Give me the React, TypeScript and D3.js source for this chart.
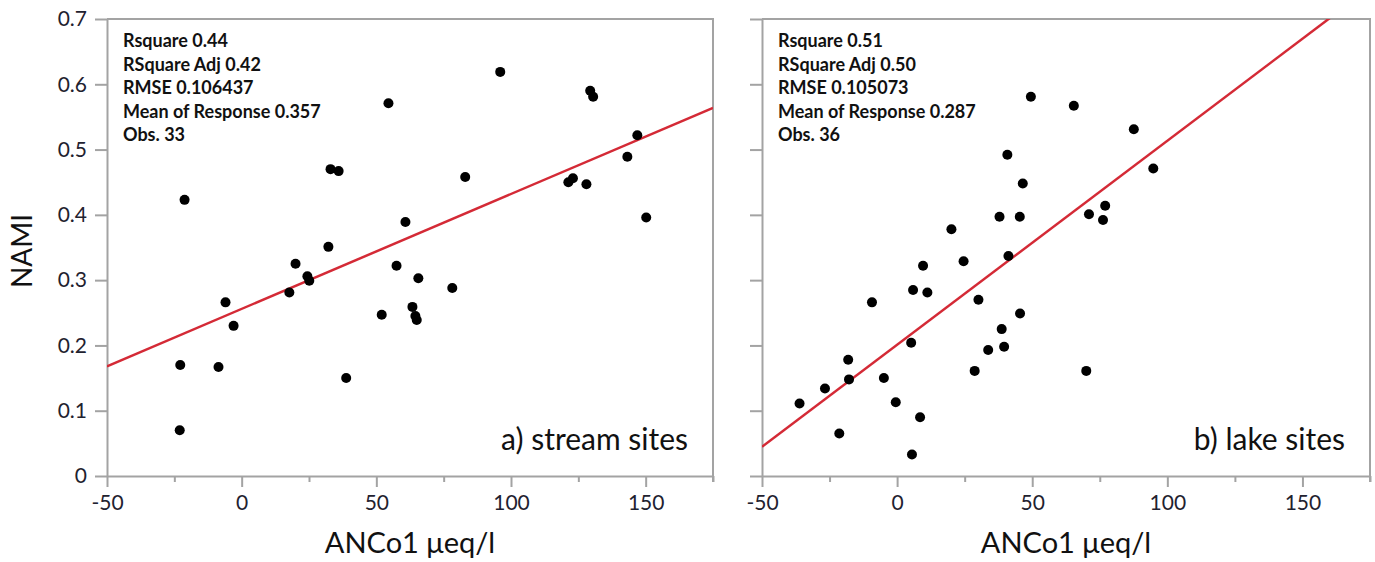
import React, { useEffect, useRef } from 'react';
import * as d3 from 'd3';

// axis ticks
const xTicks = [-50, 0, 50, 100, 150];
const xMinorTicks = [-25, 25, 75, 125, 175];
const yTicks = [0, 0.1, 0.2, 0.3, 0.4, 0.5, 0.6, 0.7];

// a) stream sites
const streamANC = [
  -22.8, -21.2, -23, -8.6, -6, -3, 17.7, 20, 24.4, 25.1, 32.2, 33, 36, 38.8, 54.5, 52, 57.5,
  60.8, 63.4, 64.5, 65, 65.6, 78.2, 83, 96, 121.3, 123, 128, 129.4, 130.5, 143.2, 146.9, 150.2,
];
const streamNAMI = [
  0.17, 0.423, 0.07, 0.167, 0.266, 0.23, 0.281, 0.325, 0.306, 0.299, 0.351, 0.47, 0.467, 0.15,
  0.571, 0.247, 0.322, 0.389, 0.259, 0.245, 0.239, 0.303, 0.288, 0.458, 0.619, 0.45, 0.456,
  0.447, 0.59, 0.581, 0.489, 0.522, 0.396,
];
const streamFit = [0.256, 0.00176]; // intercept, slope
const streamStats = [
  'Rsquare 0.44',
  'RSquare Adj 0.42',
  'RMSE 0.106437',
  'Mean of Response 0.357',
  'Obs. 33',
];

// b) lake sites
const lakeANC = [
  -36.1, -26.7, -21.4, -18.1, -17.8, -9.3, -4.9, -0.5, 5.2, 5.9, 5.5, 8.5, 11.2, 28.7, 30.1,
  33.7, 38.7, 39.6, 45.5, 70, 9.6, 20.1, 24.6, 37.9, 40.8, 41.2, 45.4, 46.5, 49.5, 65.4, 71,
  76.2, 77, 87.6, 94.8,
];
const lakeNAMI = [
  0.111, 0.134, 0.065, 0.178, 0.148, 0.266, 0.15, 0.113, 0.204, 0.285, 0.033, 0.09, 0.281,
  0.161, 0.27, 0.193, 0.225, 0.198, 0.249, 0.161, 0.322, 0.378, 0.329, 0.397, 0.492, 0.337,
  0.397, 0.448, 0.581, 0.567, 0.401, 0.392, 0.414, 0.531, 0.471,
];
const lakeFit = [0.201, 0.003125];
const lakeStats = [
  'Rsquare 0.51',
  'RSquare Adj 0.50',
  'RMSE 0.105073',
  'Mean of Response 0.287',
  'Obs. 36',
];

const FONT = 'Lato, "Open Sans", sans-serif';
const AXIS = '#a3a3a3';

const App = () => {
  const svgRef = useRef(null);

  useEffect(() => {
    const svg = d3.select(svgRef.current);
    svg.selectAll('*').remove();

    const top = 19;
    const bottom = 476;
    const y = d3.scaleLinear().domain([0, 0.7]).range([bottom, top]);

    const panels = [
      { id: 'a', left: 107, right: 713, xs: streamANC, ys: streamNAMI, fit: streamFit, stats: streamStats, label: 'a) stream sites', yLabels: true },
      { id: 'b', left: 762, right: 1370, xs: lakeANC, ys: lakeNAMI, fit: lakeFit, stats: lakeStats, label: 'b) lake sites', yLabels: false },
    ];

    panels.forEach((p) => {
      const x = d3.scaleLinear().domain([-50, 175]).range([p.left, p.right]);
      const g = svg.append('g');

      g.append('clipPath')
        .attr('id', `clip-${p.id}`)
        .append('rect')
        .attr('x', p.left)
        .attr('y', top)
        .attr('width', p.right - p.left)
        .attr('height', bottom - top);

      // frame: top and right
      g.append('path')
        .attr('d', `M${p.left},${top}H${p.right}V${bottom + 6}`)
        .attr('fill', 'none')
        .attr('stroke', AXIS)
        .attr('stroke-width', 2);

      // y axis
      const yAxis = g.append('g')
        .attr('transform', `translate(${p.left},0)`)
        .call(
          d3.axisLeft(y)
            .tickValues(yTicks)
            .tickSizeInner(12)
            .tickSizeOuter(0)
            .tickPadding(8)
            .tickFormat((d) => (p.yLabels ? (d === 0 ? '0' : d3.format('.1f')(d)) : ''))
        );

      // x axis, major + minor (plain hyphen for negatives)
      const xAxis = g.append('g')
        .attr('transform', `translate(0,${bottom})`)
        .call(
          d3.axisBottom(x)
            .tickValues(xTicks)
            .tickSizeInner(11)
            .tickSizeOuter(0)
            .tickPadding(8)
            .tickFormat((d) => String(d))
        );
      g.append('g')
        .attr('transform', `translate(0,${bottom})`)
        .call(d3.axisBottom(x).tickValues(xMinorTicks).tickSize(6).tickFormat(() => ''))
        .call((a) => a.select('.domain').remove());

      [yAxis, xAxis].forEach((a) => {
        a.select('.domain').attr('stroke', AXIS).attr('stroke-width', 2);
        a.selectAll('.tick text')
          .attr('font-family', FONT)
          .attr('font-size', 21)
          .attr('fill', '#1f2230');
      });
      g.selectAll('.tick line').attr('stroke', AXIS).attr('stroke-width', 2);

      // fitted line
      const [a0, b0] = p.fit;
      const line = d3.line()
        .x((d) => x(d))
        .y((d) => y(a0 + b0 * d));
      g.append('path')
        .datum([-50, 175])
        .attr('d', line)
        .attr('clip-path', `url(#clip-${p.id})`)
        .attr('fill', 'none')
        .attr('stroke', '#d42a36')
        .attr('stroke-width', 2.5);

      // points
      g.selectAll('circle.pt')
        .data(p.xs.map((v, i) => [v, p.ys[i]]))
        .enter()
        .append('circle')
        .attr('class', 'pt')
        .attr('cx', (d) => x(d[0]))
        .attr('cy', (d) => y(d[1]))
        .attr('r', 5)
        .attr('fill', '#000');

      // summary
      g.append('text')
        .attr('font-family', FONT)
        .attr('font-size', 18)
        .attr('font-weight', 'bold')
        .attr('fill', '#111')
        .selectAll('tspan')
        .data(p.stats)
        .enter()
        .append('tspan')
        .attr('x', p.left + 16)
        .attr('y', (d, i) => 47 + i * 23.5)
        .text((d) => d);

      g.append('text')
        .attr('x', p.right - 25)
        .attr('y', 450)
        .attr('text-anchor', 'end')
        .attr('font-family', FONT)
        .attr('font-size', 30)
        .attr('fill', '#111')
        .text(p.label);

      g.append('text')
        .attr('x', (p.left + p.right) / 2)
        .attr('y', 553)
        .attr('text-anchor', 'middle')
        .attr('font-family', FONT)
        .attr('font-size', 29)
        .attr('fill', '#111')
        .text('ANCo1 μeq/l');
    });

    svg.append('text')
      .attr('transform', `translate(32,251) rotate(-90)`)
      .attr('text-anchor', 'middle')
      .attr('font-family', FONT)
      .attr('font-size', 28)
      .attr('fill', '#111')
      .text('NAMI');
  }, []);

  return (
    <svg
      ref={svgRef}
      width={1375}
      height={562}
      style={{ position: 'absolute', left: 0, top: 0, background: '#fff' }}
    />
  );
};

export default App;
